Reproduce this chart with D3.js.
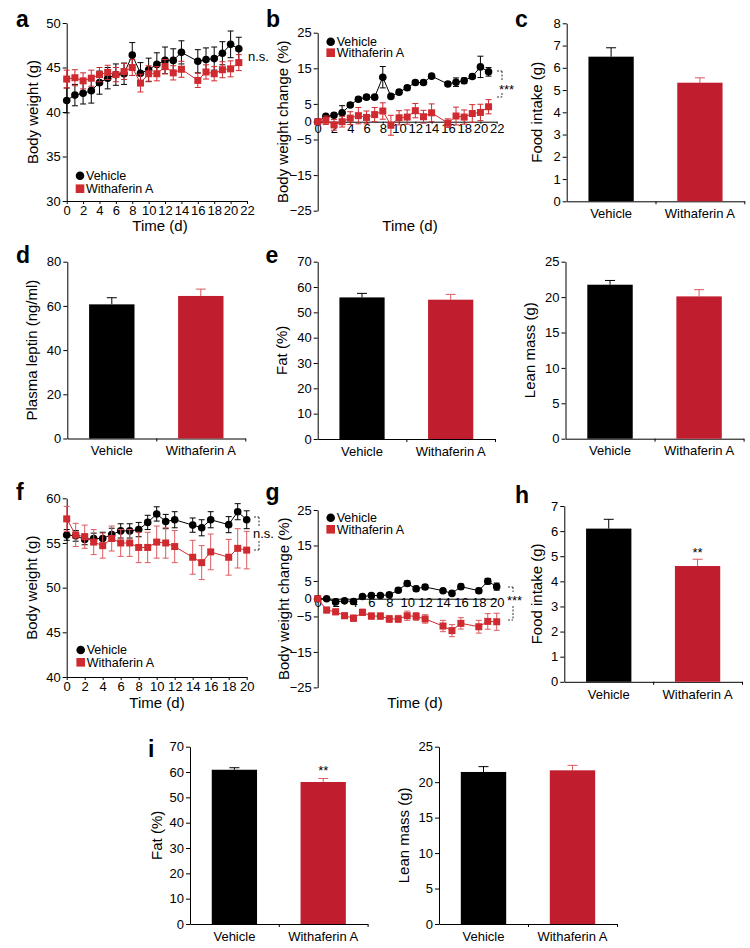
<!DOCTYPE html>
<html><head><meta charset="utf-8">
<script src="https://cdn.jsdelivr.net/npm/d3@7"></script>
<style>body{margin:0;background:#fff}</style>
</head><body><svg id="fig" width="750" height="948" style="background:#fff"></svg>
<script>
// ---------- data ----------
const groups = ["Vehicle", "Withaferin A"];
const seriesNames = ["Vehicle", "Withaferin A"];

const daysAB = [0,1,2,3,4,5,6,7,8,9,10,11,12,13,14,16,17,18,19,20,21];
const aVehicle    = [41.3,41.9,42.1,42.4,43.3,43.8,44.2,44.3,46.4,44.35,44.75,45.35,45.8,45.8,46.7,45.7,45.9,46.0,46.6,47.6,47.1];
const aVehicleErr = [1.4,1.2,1.2,1.4,1.3,1.2,1.2,1.2,1.4,1.2,1.3,1.3,1.5,1.3,1.3,1.3,1.3,1.3,1.3,1.5,1.3];
const aWA         = [43.7,43.85,43.5,43.8,44.2,44.45,44.2,44.55,45.0,43.25,44.3,44.3,45.1,44.4,44.8,43.55,44.5,44.3,44.75,44.85,45.55];
const aWAErr      = [1.0,0.9,0.9,0.9,0.8,0.8,0.8,0.9,0.9,1.0,0.9,0.8,0.8,0.8,0.9,0.8,0.8,0.8,0.9,0.9,0.9];

const bVehicle    = [0,1.5,1.8,2.5,4.7,6.3,6.9,6.9,12.5,7.1,8.3,9.55,11.0,11.0,12.8,10.6,11.1,11.5,12.7,15.4,14.0];
const bVehicleErr = [0,0.5,0.6,2.0,0.6,0.6,0.6,0.6,3.0,0.6,0.6,0.6,0.6,0.6,0.5,0.6,1.2,0.8,0.6,3.0,1.2];
const bWA         = [0,0.4,-0.9,0,1.0,1.7,1.2,2.0,3.0,-1.0,1.1,1.3,3.1,1.4,2.5,-0.4,1.6,1.3,2.3,2.6,4.2];
const bWAErr      = [0.4,1.2,1.5,1.5,1.8,2.3,1.8,2.0,2.3,2.8,2.0,2.0,2.0,1.8,2.5,1.2,2.5,2.0,2.5,2.3,2.0];

const daysFG = [0,1,2,3,4,5,6,7,8,9,10,11,12,14,15,16,18,19,20];
const fVehicle    = [55.9,55.8,55.4,55.5,55.5,55.95,56.35,56.35,56.5,57.3,58.25,57.4,57.6,57.0,56.7,57.6,57.05,58.5,57.6];
const fVehicleErr = [0.6,0.6,0.6,0.6,0.7,0.7,0.8,0.8,0.8,0.8,0.8,0.8,0.9,0.8,0.9,0.9,0.9,0.9,1.0];
const fWA         = [57.7,55.9,55.7,55.1,54.7,55.5,55.0,55.0,54.5,54.5,55.1,55.0,54.6,53.4,52.8,54.0,53.4,54.4,54.2];
const fWAErr      = [1.4,1.3,1.3,1.4,1.4,1.4,1.5,1.5,1.7,1.7,1.8,1.7,1.8,1.9,1.9,2.0,2.0,2.2,2.1];

const gVehicle    = [0,0,-0.9,-0.6,-0.8,0.6,0.9,0.9,1.1,2.4,4.3,2.8,3.3,2.25,1.5,3.4,2.25,4.9,3.4];
const gVehicleErr = [0,0.4,0.5,0.5,0.5,0.5,0.6,0.5,0.6,0.6,0.7,0.7,0.7,0.6,0.6,0.7,0.7,0.8,1.0];
const gWA         = [0,-3.2,-3.7,-4.8,-5.5,-3.85,-4.9,-4.9,-5.7,-5.7,-4.8,-5.0,-5.7,-7.7,-9.0,-6.95,-7.9,-6.4,-6.5];
const gWAErr      = [0.3,0.8,0.8,0.8,0.9,0.9,0.9,0.9,1.0,1.0,1.3,1.1,1.2,1.6,1.7,1.6,1.8,2.2,2.4];

const cFood = [6.5, 5.33],   cFoodErr = [0.4, 0.22];
const dLeptin = [60.7, 64.5], dLeptinErr = [3.0, 3.1];
const eFat = [55.9, 55.0],   eFatErr = [1.6, 2.1];
const eLean = [21.75, 20.1], eLeanErr = [0.6, 0.95];
const hFood = [6.1, 4.61],   hFoodErr = [0.37, 0.27];
const iFat = [60.9, 56.06],  iFatErr = [0.8, 1.4];
const iLean = [21.44, 21.67], iLeanErr = [0.75, 0.7];

const ticksBW1 = [30,35,40,45,50];
const ticksChange = [-25,-15,-5,0,5,15,25];
const ticksBW2 = [40,45,50,55,60];

// ---------- styling ----------
const FONT = "'Liberation Sans', Arial, Helvetica, sans-serif";
const RED_BAR = "#c01e2e";
const RED_MARK = "#cf2a2f";
const RED_ERR = "#dd5a5f";
const svg = d3.select("#fig");
const fmt = d => d < 0 ? "\u2212" + Math.abs(d) : String(d);

function styleAxis(g, fs) {
  g.selectAll("text").attr("font-size", fs || 13).attr("font-family", FONT).attr("fill", "#000");
  g.selectAll("line,path").attr("stroke", "#000").attr("stroke-width", 1);
}
function txt(x, y, s, o = {}) {
  const t = svg.append("text").attr("x", x).attr("y", y).text(s)
    .attr("font-family", FONT).attr("font-size", o.fs || 13).attr("fill", o.fill || "#000")
    .attr("text-anchor", o.anchor || "start");
  if (o.bold) t.attr("font-weight", "bold");
  if (o.rot) t.attr("transform", `rotate(-90 ${x} ${y})`);
  return t;
}
function letter(x, y, s) { txt(x, y, s, { fs: 23, bold: true }); }

function drawSeries(g, x, y, days, vals, errs, color, errColor, shape) {
  const pts = days.map((d, i) => ({ d, v: vals[i], e: errs[i] }));
  const eb = g.append("g").attr("stroke", errColor).attr("stroke-width", 1);
  pts.forEach(p => {
    if (p.e <= 0) return;
    const cx = x(p.d);
    eb.append("line").attr("x1", cx).attr("x2", cx).attr("y1", y(p.v - p.e)).attr("y2", y(p.v + p.e));
    eb.append("line").attr("x1", cx - 3).attr("x2", cx + 3).attr("y1", y(p.v + p.e)).attr("y2", y(p.v + p.e));
    eb.append("line").attr("x1", cx - 3).attr("x2", cx + 3).attr("y1", y(p.v - p.e)).attr("y2", y(p.v - p.e));
  });
  g.append("path").datum(pts).attr("fill", "none").attr("stroke", color).attr("stroke-width", 1)
    .attr("d", d3.line().x(p => x(p.d)).y(p => y(p.v)));
  if (shape === "circle") {
    g.selectAll(null).data(pts).enter().append("circle")
      .attr("cx", p => x(p.d)).attr("cy", p => y(p.v)).attr("r", 3.8).attr("fill", color);
  } else {
    const s = 7;
    g.selectAll(null).data(pts).enter().append("rect")
      .attr("x", p => x(p.d) - s / 2).attr("y", p => y(p.v) - s / 2).attr("width", s).attr("height", s).attr("fill", color);
  }
}

function legend(lx, ly1, ly2) {
  svg.append("circle").attr("cx", lx).attr("cy", ly1).attr("r", 4.3).attr("fill", "#000");
  txt(lx + 6, ly1 + 4.4, seriesNames[0], { fs: 12.5 });
  svg.append("rect").attr("x", lx - 4.3).attr("y", ly2 - 4.3).attr("width", 8.6).attr("height", 8.6).attr("fill", RED_MARK);
  txt(lx + 6, ly2 + 4.4, seriesNames[1], { fs: 12.5 });
}

function linePanel(o) {
  const x = d3.scaleLinear().domain([0, o.xMax]).range([o.x0, o.x1]);
  const y = d3.scaleLinear().domain(o.yDomain).range([o.yBot, o.yTop]);
  const g = svg.append("g");
  const ya = g.append("g").attr("transform", `translate(${o.x0},0)`)
    .call(d3.axisLeft(y).tickValues(o.yTicks).tickSize(4).tickSizeOuter(0).tickPadding(2).tickFormat(fmt));
  styleAxis(ya);
  const xa = g.append("g").attr("transform", `translate(0,${y(o.xAxisAt)})`)
    .call(d3.axisBottom(x).tickValues(d3.range(0, o.xMax + 1, 2)).tickSize(o.xTickSize).tickSizeOuter(0).tickPadding(o.xTickPad).tickFormat(d3.format("d")));
  styleAxis(xa);
  const sg = g.append("g");
  drawSeries(sg, x, y, o.days, o.veh, o.vehErr, "#000", "#000", "circle");
  drawSeries(sg, x, y, o.days, o.wa, o.waErr, RED_MARK, o.redErr || RED_MARK, "square");
  txt(o.yTitleX, (o.yTop + o.yBot) / 2, o.yTitle, { fs: 15, anchor: "middle", rot: true });
  txt(o.xTitleX, o.xTitleY, "Time (d)", { fs: 15, anchor: "middle" });
  return { x, y };
}

function barPanel(o) {
  const xl = d3.scaleLinear().domain([0, 1]).range([o.x0, o.x1]);
  const xb = d3.scaleBand().domain(groups).range([o.x0, o.x1]).paddingInner(0.49).paddingOuter(0.245);
  const y = d3.scaleLinear().domain([0, o.yMax]).range([o.yBot, o.yTop]);
  const g = svg.append("g");
  const ya = g.append("g").attr("transform", `translate(${o.x0},0)`)
    .call(d3.axisLeft(y).tickValues(o.yTicks).tickSize(4).tickSizeOuter(0).tickPadding(2).tickFormat(d3.format("d")));
  styleAxis(ya);
  const xa = g.append("g").attr("transform", `translate(0,${o.yBot})`)
    .call(d3.axisBottom(xl).tickValues([0.5, 1]).tickSize(3).tickSizeOuter(0).tickFormat(""));
  styleAxis(xa);
  const xc = g.append("g").attr("transform", `translate(0,${o.yBot})`)
    .call(d3.axisBottom(xb).tickSize(0).tickPadding(7.5));
  xc.select(".domain").remove();
  styleAxis(xc);
  const data = groups.map((k, i) => ({ k, v: o.values[i], e: o.errs[i] }));
  const colors = ["#000", RED_BAR], ecol = ["#000", RED_ERR];
  data.forEach((d, i) => {
    const cx = xb(d.k) + xb.bandwidth() / 2;
    g.append("line").attr("x1", cx).attr("x2", cx).attr("y1", y(d.v)).attr("y2", y(d.v + d.e)).attr("stroke", ecol[i]).attr("stroke-width", 1);
    g.append("line").attr("x1", cx - 5).attr("x2", cx + 5).attr("y1", y(d.v + d.e)).attr("y2", y(d.v + d.e)).attr("stroke", ecol[i]).attr("stroke-width", 1);
    g.append("rect").attr("x", xb(d.k)).attr("y", y(d.v)).attr("width", xb.bandwidth()).attr("height", y(0) - y(d.v)).attr("fill", colors[i]);
  });
  if (o.star) {
    const cx = xb(groups[1]) + xb.bandwidth() / 2;
    txt(cx, y(o.values[1] + o.errs[1]) - o.starGap, o.star, { anchor: "middle" });
  }
  txt(o.yTitleX, (o.yTop + o.yBot) / 2, o.yTitle, { fs: 15, anchor: "middle", rot: true });
}

function bracket(x, y1, y2, gapTop, gapBot) {
  const g = svg.append("g").attr("stroke", "#000").attr("stroke-width", 0.8).attr("stroke-dasharray", "2,1.5");
  g.append("line").attr("x1", x - 5).attr("x2", x).attr("y1", y1).attr("y2", y1);
  g.append("line").attr("x1", x - 5).attr("x2", x).attr("y1", y2).attr("y2", y2);
  g.append("line").attr("x1", x).attr("x2", x).attr("y1", y1).attr("y2", gapTop);
  g.append("line").attr("x1", x).attr("x2", x).attr("y1", gapBot).attr("y2", y2);
}

// ---------- panel a ----------
linePanel({ x0: 66.7, x1: 247, xMax: 22, yTop: 23, yBot: 201, yDomain: [30, 50], yTicks: ticksBW1,
  xAxisAt: 30, xTickSize: 3, xTickPad: 1.5, days: daysAB, veh: aVehicle, vehErr: aVehicleErr, wa: aWA, waErr: aWAErr,
  yTitle: "Body weight (g)", yTitleX: 37.5, xTitleX: 160, xTitleY: 231 });
legend(80, 175.7, 188.7);
txt(248, 61, "n.s.");
letter(16, 27, "a");

// ---------- panel b ----------
linePanel({ x0: 317.7, x1: 496.7, xMax: 22, yTop: 32.7, yBot: 210.7, yDomain: [-25, 25], yTicks: ticksChange,
  xAxisAt: 0, xTickSize: 2, xTickPad: 0.5, days: daysAB, veh: bVehicle, vehErr: bVehicleErr, wa: bWA, waErr: bWAErr,
  yTitle: "Body weight change (%)", yTitleX: 288.5, xTitleX: 410, xTitleY: 231 });
legend(330.7, 41.7, 52.7);
bracket(502, 71, 97, 80, 93);
txt(499, 94, "***");
letter(266, 26.5, "b");

// ---------- panel c ----------
barPanel({ x0: 566.7, x1: 744.3, yTop: 23.3, yBot: 201.3, yMax: 8, yTicks: d3.range(0, 9),
  values: cFood, errs: cFoodErr, yTitle: "Food intake (g)", yTitleX: 542.5 });
letter(515, 27, "c");

// ---------- panel d ----------
barPanel({ x0: 67.3, x1: 245.3, yTop: 261.7, yBot: 438.5, yMax: 80, yTicks: [0, 20, 40, 60, 80],
  values: dLeptin, errs: dLeptinErr, yTitle: "Plasma leptin (ng/ml)", yTitleX: 37.5 });
letter(16, 263.3, "d");

// ---------- panel e ----------
barPanel({ x0: 317.7, x1: 495, yTop: 261.7, yBot: 439, yMax: 70, yTicks: d3.range(0, 71, 10),
  values: eFat, errs: eFatErr, yTitle: "Fat (%)", yTitleX: 287.5 });
barPanel({ x0: 565.5, x1: 743.6, yTop: 261.7, yBot: 438.7, yMax: 25, yTicks: d3.range(0, 26, 5),
  values: eLean, errs: eLeanErr, yTitle: "Lean mass (g)", yTitleX: 535 });
letter(265.5, 263.3, "e");

// ---------- panel f ----------
linePanel({ x0: 66.7, x1: 246.7, xMax: 20, yTop: 498.3, yBot: 677, yDomain: [40, 60], yTicks: ticksBW2,
  xAxisAt: 40, xTickSize: 3, xTickPad: 1.5, days: daysFG, veh: fVehicle, vehErr: fVehicleErr, wa: fWA, waErr: fWAErr,
  redErr: RED_ERR, yTitle: "Body weight (g)", yTitleX: 37.5, xTitleX: 157, xTitleY: 708 });
legend(80.7, 650, 662.3);
bracket(259, 517, 550, 527, 541);
txt(253, 538, "n.s.");
letter(16, 500, "f");

// ---------- panel g ----------
linePanel({ x0: 317.7, x1: 496.7, xMax: 20, yTop: 510, yBot: 687.4, yDomain: [-25, 25], yTicks: ticksChange,
  xAxisAt: 0, xTickSize: 0, xTickPad: -1, days: daysFG, veh: gVehicle, vehErr: gVehicleErr, wa: gWA, waErr: gWAErr,
  redErr: RED_ERR, yTitle: "Body weight change (%)", yTitleX: 289, xTitleX: 415, xTitleY: 708 });
legend(330.7, 517.7, 529.3);
bracket(513, 587, 620, 592, 606);
txt(507, 605, "***");
letter(265.5, 500, "g");

// ---------- panel h ----------
barPanel({ x0: 564.3, x1: 742, yTop: 506, yBot: 681.8, yMax: 7, yTicks: d3.range(0, 8),
  values: hFood, errs: hFoodErr, yTitle: "Food intake (g)", yTitleX: 542.5, star: "**", starGap: 2 });
letter(515, 503, "h");

// ---------- panel i ----------
barPanel({ x0: 190, x1: 367.6, yTop: 746.7, yBot: 924, yMax: 70, yTicks: d3.range(0, 71, 10),
  values: iFat, errs: iFatErr, yTitle: "Fat (%)", yTitleX: 162.5, star: "**", starGap: 3 });
barPanel({ x0: 439, x1: 617, yTop: 746.7, yBot: 924, yMax: 25, yTicks: d3.range(0, 26, 5),
  values: iLean, errs: iLeanErr, yTitle: "Lean mass (g)", yTitleX: 409 });
letter(148, 757, "i");
</script></body></html>
